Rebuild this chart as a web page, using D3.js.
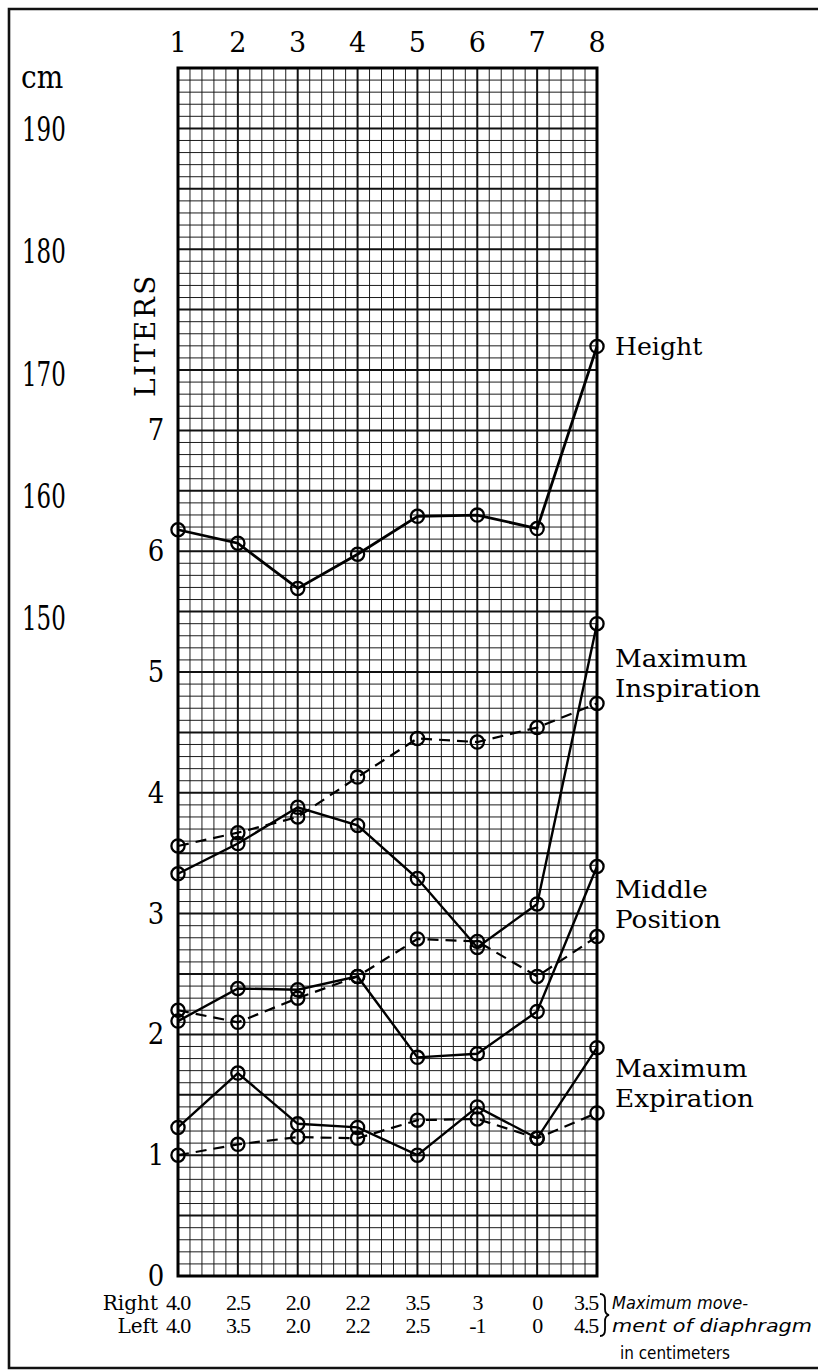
<!DOCTYPE html>
<html><head><meta charset="utf-8">
<script src="https://cdn.jsdelivr.net/npm/d3@7"></script>
<style>body{margin:0;background:#fff} svg{display:block}</style>
</head><body><svg id="c" width="818" height="1371"></svg>
<script>
// ---- data ----
const columns = [1, 2, 3, 4, 5, 6, 7, 8];
const literTicks = [0, 1, 2, 3, 4, 5, 6, 7];
const cmTicks = [150, 160, 170, 180, 190];
const heightCm = [157.3, 156.2, 152.5, 155.3, 158.4, 158.5, 157.4, 172.3];
const maxInspSolid  = [3.33, 3.58, 3.88, 3.73, 3.29, 2.72, 3.08, 5.40];
const maxInspDashed = [3.56, 3.67, 3.80, 4.13, 4.45, 4.42, 4.54, 4.74];
const midSolid      = [2.11, 2.38, 2.37, 2.48, 1.81, 1.84, 2.19, 3.39];
const midDashed     = [2.20, 2.10, 2.30, 2.48, 2.79, 2.77, 2.48, 2.81];
const maxExpSolid   = [1.23, 1.68, 1.26, 1.23, 1.00, 1.40, 1.14, 1.89];
const maxExpDashed  = [1.00, 1.09, 1.15, 1.14, 1.29, 1.30, 1.14, 1.35];
const diaphragmRight = ["4.0", "2.5", "2.0", "2.2", "3.5", "3", "0", "3.5"];
const diaphragmLeft  = ["4.0", "3.5", "2.0", "2.2", "2.5", "-1", "0", "4.5"];
const seriesLabels = [["Height"], ["Maximum", "Inspiration"], ["Middle", "Position"], ["Maximum", "Expiration"]];
const noteLines = ["Maximum move-", "ment  of  diaphragm", "in centimeters"];

// ---- layout ----
const svg = d3.select("#c");
const serif = "'DejaVu Serif', 'Liberation Serif', serif";
const x = d3.scaleLinear().domain([1, 8]).range([178, 597]);
const y = d3.scaleLinear().domain([0, 10]).range([1276, 68]);
const cm = d3.scaleLinear().domain([150, 190]).range([619, 130]);

// frame
svg.append("path").attr("d", "M830,9 H9 V1368 H830")
  .attr("fill", "none").attr("stroke", "#111").attr("stroke-width", 2.6);

// grid
const g = svg.append("g");
d3.range(0, 101).forEach(k => {
  g.append("line").attr("x1", x(1)).attr("x2", x(8)).attr("y1", y(k / 10)).attr("y2", y(k / 10))
    .attr("stroke", "#111").attr("stroke-width", k % 5 === 0 ? 2 : 0.95);
});
d3.range(0, 36).forEach(k => {
  g.append("line").attr("y1", y(0)).attr("y2", y(10)).attr("x1", x(1 + k / 5)).attr("x2", x(1 + k / 5))
    .attr("stroke", "#111").attr("stroke-width", k % 5 === 0 ? 2 : 0.95);
});
g.append("rect").attr("x", x(1)).attr("y", y(10)).attr("width", x(8) - x(1)).attr("height", y(0) - y(10))
  .attr("fill", "none").attr("stroke", "#000").attr("stroke-width", 3);

// top column labels
svg.append("g").selectAll("text").data(columns).join("text")
  .attr("x", d => x(d)).attr("y", 52).attr("text-anchor", "middle")
  .attr("font-family", serif).attr("font-size", 27).text(d => d);

// liter labels
svg.append("g").selectAll("text").data(literTicks).join("text")
  .attr("transform", d => `translate(156,${y(d) + 10}) scale(1,1.15)`)
  .attr("text-anchor", "middle").attr("font-family", serif).attr("font-size", 26).text(d => d);

// cm labels
svg.append("text").attr("transform", "translate(21,88) scale(1,1.1)")
  .attr("font-family", serif).attr("font-size", 28).text("cm");
svg.append("g").selectAll("text").data(cmTicks).join("text")
  .attr("transform", d => `translate(22,${cm(d) + 11}) scale(0.82,1.2)`)
  .attr("font-family", serif).attr("font-size", 28).text(d => d);

// LITERS
svg.append("text").attr("transform", "translate(155,335) rotate(-90)")
  .attr("text-anchor", "middle").attr("font-family", serif).attr("font-size", 28)
  .attr("letter-spacing", 2.5).text("LITERS");

// series
const line = d3.line().x((d, i) => x(columns[i])).y(d => y(d));
const lineCm = d3.line().x((d, i) => x(columns[i])).y(d => cm(d));
const marks = svg.append("g");
function drawSeries(vals, gen, scale, dashed, w) {
  marks.append("path").attr("d", gen(vals)).attr("fill", "none").attr("stroke", "#000")
    .attr("stroke-width", w).attr("stroke-dasharray", dashed ? "11,7" : null);
  marks.append("g").selectAll("circle").data(vals).join("circle")
    .attr("cx", (d, i) => x(columns[i])).attr("cy", d => scale(d)).attr("r", 6.6)
    .attr("fill", "none").attr("stroke", "#000").attr("stroke-width", 2.3);
}
drawSeries(heightCm, lineCm, cm, false, 2.8);
drawSeries(maxInspSolid, line, y, false, 2.4);
drawSeries(maxInspDashed, line, y, true, 2.2);
drawSeries(midSolid, line, y, false, 2.4);
drawSeries(midDashed, line, y, true, 2.2);
drawSeries(maxExpSolid, line, y, false, 2.4);
drawSeries(maxExpDashed, line, y, true, 2.2);

// series labels
const labelY = [cm(heightCm[7]), y(5.12), y(3.2), y(1.72)];
seriesLabels.forEach((lines, j) => {
  lines.forEach((t, k) => {
    svg.append("text").attr("transform", `translate(615,${labelY[j] + 9 + k * 30}) scale(1.05,1)`)
      .attr("font-family", serif).attr("font-size", j === 0 ? 24 : 25).text(t);
  });
});

// bottom rows
const rowY = [1310, 1333];
svg.append("text").attr("x", 158).attr("y", rowY[0]).attr("text-anchor", "end")
  .attr("font-family", serif).attr("font-size", 20).text("Right");
svg.append("text").attr("x", 158).attr("y", rowY[1]).attr("text-anchor", "end")
  .attr("font-family", serif).attr("font-size", 20).text("Left");
[[diaphragmRight, rowY[0]], [diaphragmLeft, rowY[1]]].forEach(([arr, yy]) => {
  svg.append("g").selectAll("text").data(arr).join("text")
    .attr("x", (d, i) => i === 7 ? x(columns[i]) + 1 : x(columns[i]))
    .attr("y", yy).attr("text-anchor", (d, i) => i === 7 ? "end" : "middle")
    .attr("font-family", "'Liberation Serif', serif").attr("font-size", 22)
    .attr("letter-spacing", -1.2).text(d => d);
});
// brace
svg.append("path").attr("d", "M600,1294 q5,0 5,6 v9 q0,5 4,6 q-4,1 -4,6 v9 q0,6 -5,6")
  .attr("fill", "none").attr("stroke", "#000").attr("stroke-width", 1.8);
// note
const sans = "'DejaVu Sans', 'Noto Sans', sans-serif";
svg.append("text").attr("x", 612).attr("y", 1309).attr("font-family", sans).attr("font-style", "italic")
  .attr("font-size", 18).attr("textLength", 136).attr("lengthAdjust", "spacingAndGlyphs").text(noteLines[0]);
svg.append("text").attr("x", 612).attr("y", 1332).attr("font-family", sans).attr("font-style", "italic")
  .attr("font-size", 18).attr("textLength", 200).attr("lengthAdjust", "spacingAndGlyphs").text(noteLines[1]);
svg.append("text").attr("x", 620).attr("y", 1359).attr("font-family", sans)
  .attr("font-size", 18).attr("textLength", 110).attr("lengthAdjust", "spacingAndGlyphs").text(noteLines[2]);
</script></body></html>
